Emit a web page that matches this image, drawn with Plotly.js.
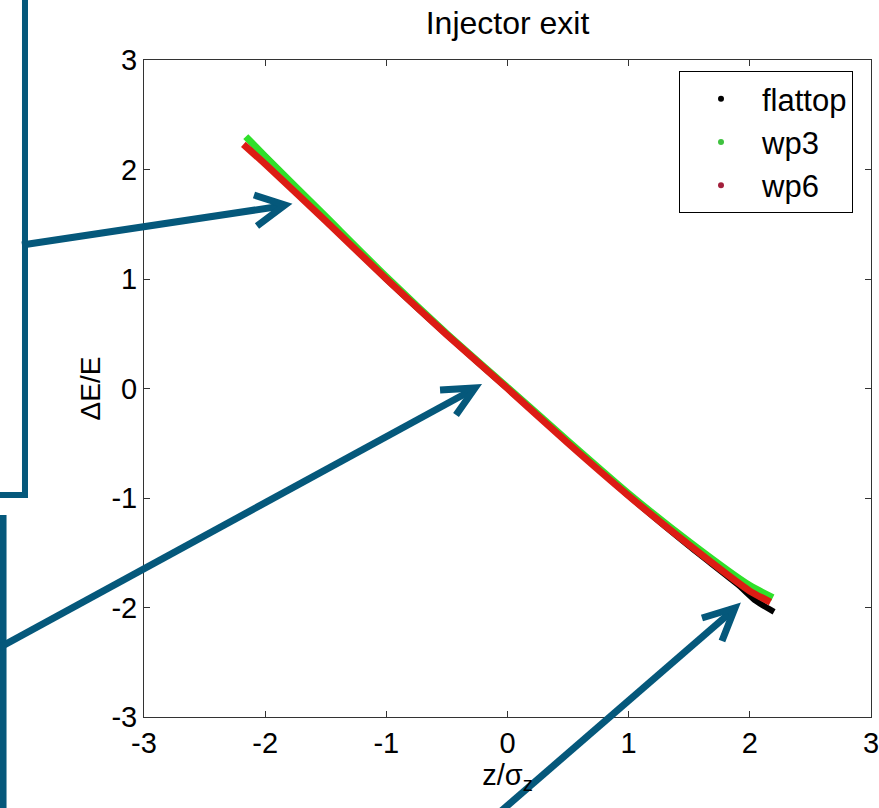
<!DOCTYPE html>
<html>
<head>
<meta charset="utf-8">
<script src="https://cdn.plot.ly/plotly-3.0.1.min.js"></script>
<style>html,body{margin:0;padding:0;background:#fff;}#chart{width:879px;height:808px;}</style>
</head>
<body>
<div id="chart"></div>
<script>
// Series (z/sigma_z vs Delta E/E)
const flattopX = [-2.10, -2.00, -1.50, -1.00, -0.50, 0.00, 0.50, 1.00, 1.50, 1.90, 2.05, 2.20];
const flattopY = [ 2.22,  2.12,  1.55,  1.00,  0.49, 0.00, -0.49, -0.98, -1.44, -1.79, -1.94, -2.04];
const wp3X = [-2.16, -2.00, -1.50, -1.00, -0.50, 0.00, 0.50, 1.00, 1.50, 2.00, 2.19];
const wp3Y = [ 2.30,  2.12,  1.57,  1.02,  0.50, 0.01, -0.48, -0.96, -1.40, -1.80, -1.91];
const wp6X = [-2.18, -2.00, -1.50, -1.00, -0.50, 0.00, 0.50, 1.00, 1.50, 2.00, 2.17];
const wp6Y = [ 2.23,  2.05,  1.53,  1.00,  0.49, 0.00, -0.50, -0.98, -1.43, -1.85, -1.95];
const seriesNames = ['flattop', 'wp3', 'wp6'];
const xTicks = [-3, -2, -1, 0, 1, 2, 3];
const yTicks = [-3, -2, -1, 0, 1, 2, 3];

const colors = {flattop: '#000000', wp3: '#2fe02a', wp6: '#dc1c14'};
const legendMarkerColors = {flattop: '#000000', wp3: '#3fc23f', wp6: '#a3203c'};
const FONT = 'Arial, "Liberation Sans", sans-serif';

const data = [
  {x: flattopX, y: flattopY, mode: 'lines', line: {color: colors.flattop, width: 6, shape: 'spline', smoothing: 0.6}, showlegend: false, hoverinfo: 'skip'},
  {x: wp3X, y: wp3Y, mode: 'lines', line: {color: colors.wp3, width: 7, shape: 'spline', smoothing: 0.6}, showlegend: false, hoverinfo: 'skip'},
  {x: wp6X, y: wp6Y, mode: 'lines', line: {color: colors.wp6, width: 7, shape: 'spline', smoothing: 0.6}, showlegend: false, hoverinfo: 'skip'}
];
seriesNames.forEach(function (n) {
  data.push({x: [null], y: [null], name: n, mode: 'markers', legendgroup: n,
    marker: {color: legendMarkerColors[n], size: 6}});
});

// plot area in pixels
const L = 144, R = 871, T = 60, B = 717;
function px(x) { return (x - L) / (R - L); }
function py(y) { return (B - y) / (B - T); }
function pathOf(pts) {
  return pts.map(function (p, i) { return (i ? 'L' : 'M') + px(p[0]).toFixed(4) + ',' + py(p[1]).toFixed(4); }).join(' ');
}
const blue = '#05587b';
function deco(pts, w) {
  return {type: 'path', xref: 'paper', yref: 'paper', layer: 'above', path: pathOf(pts),
    line: {color: blue, width: w}};
}
const shapes = [
  deco([[25, -10], [25, 495], [-10, 495]], 6),
  deco([[22, 245], [282, 206]], 7),
  deco([[254, 195], [285, 205], [257, 226]], 7),
  deco([[3, 515], [3, 830]], 7),
  deco([[-5, 650], [472, 390]], 7),
  deco([[440, 390], [475, 388], [456, 415]], 7),
  deco([[485, 825], [732, 611]], 7),
  deco([[702, 618], [735, 608], [722, 641]], 7)
];

const layout = {
  width: 879, height: 808,
  margin: {l: L, r: 879 - R, t: T, b: 808 - B},
  paper_bgcolor: '#ffffff', plot_bgcolor: '#ffffff',
  font: {family: FONT, color: '#000000', size: 29},
  title: {text: 'Injector exit', font: {family: FONT, size: 32, color: '#000'}, xref: 'paper', x: 0.5, xanchor: 'center', y: 0.972, yanchor: 'middle'},
  xaxis: {range: [-3, 3], tickvals: xTicks, ticktext: xTicks.map(String), ticks: 'inside', ticklen: 6,
    ticklabeloverflow: 'allow',
    tickcolor: '#333', showline: true, linecolor: '#333', linewidth: 1, mirror: 'ticks', showgrid: false, zeroline: false,
    tickfont: {family: FONT, size: 29}, title: {text: 'z/σ<sub>z</sub>', font: {family: FONT, size: 29}, standoff: 4}},
  yaxis: {range: [-3, 3], tickvals: yTicks, ticktext: yTicks.map(String), ticks: 'inside', ticklen: 6,
    ticklabeloverflow: 'allow',
    tickcolor: '#333', showline: true, linecolor: '#333', linewidth: 1, mirror: 'ticks', showgrid: false, zeroline: false,
    tickfont: {family: FONT, size: 29}, title: {text: 'ΔE/E', font: {family: FONT, size: 28}, standoff: 2}},
  showlegend: true,
  legend: {x: px(679), y: py(71), xanchor: 'left', yanchor: 'top', bgcolor: '#ffffff', bordercolor: '#000', borderwidth: 1,
    font: {family: FONT, size: 31}, itemwidth: 72, tracegroupgap: 0},
  shapes: shapes
};
Plotly.newPlot('chart', data, layout, {staticPlot: true});
</script>
</body>
</html>
